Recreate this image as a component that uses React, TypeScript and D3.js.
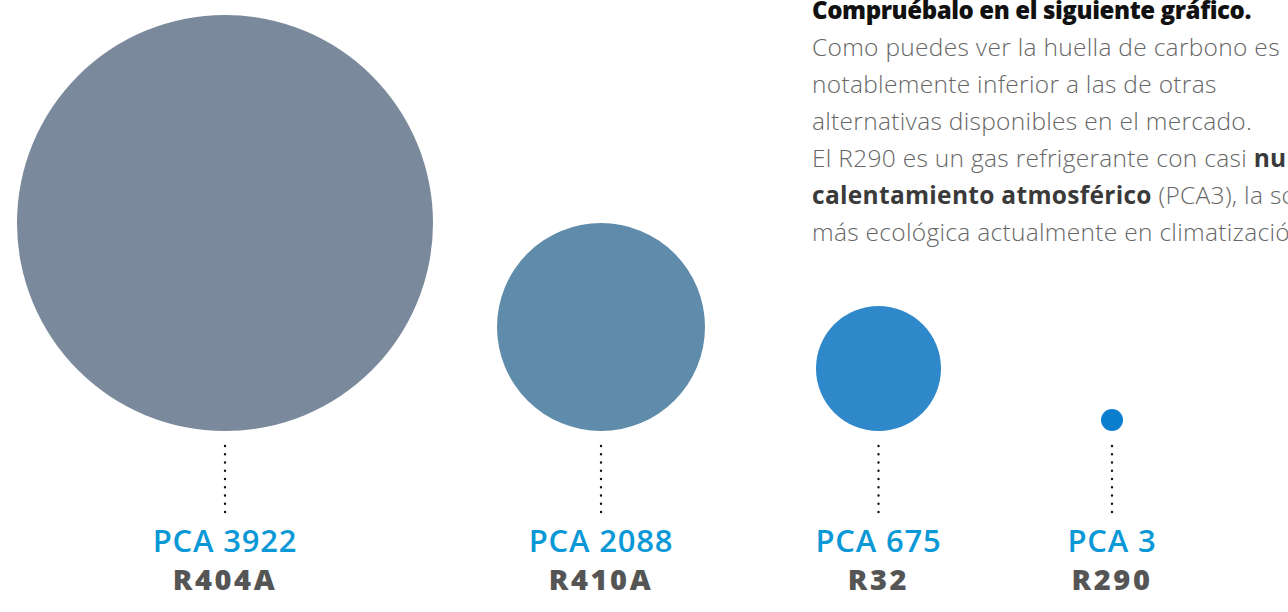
import { useEffect, useRef } from 'react';
import * as d3 from 'd3';

const GASES = ['R404A', 'R410A', 'R32', 'R290'];
const PCA_VALUES = [3922, 2088, 675, 3];
const GAS_COLORS = ['#7a899b', '#5f8cab', '#2e88c9', '#0b7fcd'];

const HEADING = 'Compruébalo en el siguiente gráfico.';
// each line is a list of [text, bold]
const PARAGRAPH: [string, boolean][][] = [
  [['Como puedes ver la huella de carbono es', false]],
  [['notablemente inferior a las de otras', false]],
  [['alternativas disponibles en el mercado.', false]],
  [['El R290 es un gas refrigerante con casi ', false], ['nulo', true]],
  [['calentamiento atmosférico', true], [' (PCA3), la solución', false]],
  [['más ecológica actualmente en climatización.', false]],
];

export default function App() {
  const svgRef = useRef<SVGSVGElement>(null);

  useEffect(() => {
    const el = svgRef.current;
    if (!el) return;
    const svg = d3.select(el);
    svg.selectAll('*').remove();

    const W = 1288;
    const H = 612;
    svg.attr('width', W).attr('height', H);

    const baseY = 431; // circles sit on this line

    const x = d3.scaleOrdinal<string, number>().domain(GASES).range([225, 601, 878.5, 1112]);
    const r = d3.scaleLinear().domain([3, 675, 2088, 3922]).range([11, 62.5, 104, 208]);

    const data = GASES.map((g, i) => ({ gas: g, value: PCA_VALUES[i], color: GAS_COLORS[i] }));

    const g = svg.append('g');

    g.selectAll('circle.bubble')
      .data(data)
      .join('circle')
      .attr('class', 'bubble')
      .attr('cx', (d) => x(d.gas))
      .attr('cy', (d) => baseY - r(d.value))
      .attr('r', (d) => r(d.value))
      .attr('fill', (d) => d.color);

    // dotted connectors
    g.selectAll('line.dots')
      .data(data)
      .join('line')
      .attr('class', 'dots')
      .attr('x1', (d) => x(d.gas))
      .attr('x2', (d) => x(d.gas))
      .attr('y1', 446)
      .attr('y2', 513)
      .attr('stroke', '#111')
      .attr('stroke-width', 2.4)
      .attr('stroke-linecap', 'round')
      .attr('stroke-dasharray', '0 8.25');

    g.selectAll('text.pca')
      .data(data)
      .join('text')
      .attr('class', 'pca')
      .attr('x', (d) => x(d.gas))
      .attr('y', 552)
      .attr('text-anchor', 'middle')
      .attr('font-family', "'Open Sans', sans-serif")
      .attr('font-weight', 600)
      .attr('font-size', '31px')
      .attr('letter-spacing', '0.8px')
      .attr('fill', '#0a98d6')
      .text((d) => `PCA ${d.value}`);

    g.selectAll('text.gas')
      .data(data)
      .join('text')
      .attr('class', 'gas')
      .attr('x', (d) => x(d.gas))
      .attr('y', 590)
      .attr('text-anchor', 'middle')
      .attr('font-family', "'Open Sans', sans-serif")
      .attr('font-weight', 800)
      .attr('font-size', '29px')
      .attr('letter-spacing', '2.6px')
      .attr('fill', '#555')
      .text((d) => d.gas);

    // side text
    const tx = 812;
    g.append('text')
      .attr('x', tx)
      .attr('y', 19)
      .attr('font-family', "'Open Sans', sans-serif")
      .attr('font-weight', 800)
      .attr('font-size', '24px')
      .attr('fill', '#111')
      .attr('letter-spacing', '-0.4px')
      .text(HEADING);

    PARAGRAPH.forEach((line, i) => {
      const t = g.append('text')
        .attr('x', tx)
        .attr('y', 56 + i * 37)
        .attr('font-family', "'Open Sans', sans-serif")
        .attr('font-size', '24.5px')
        .attr('letter-spacing', '0.3px')
        .attr('fill', '#666');
      line.forEach(([s, bold]) => {
        t.append('tspan')
          .attr('font-weight', bold ? 700 : 300)
          .attr('fill', bold ? '#3a3a3a' : '#666')
          .text(s);
      });
    });
  }, []);

  return (
    <svg ref={svgRef} style={{ position: 'absolute', left: 0, top: 0, background: '#fff' }} />
  );
}
